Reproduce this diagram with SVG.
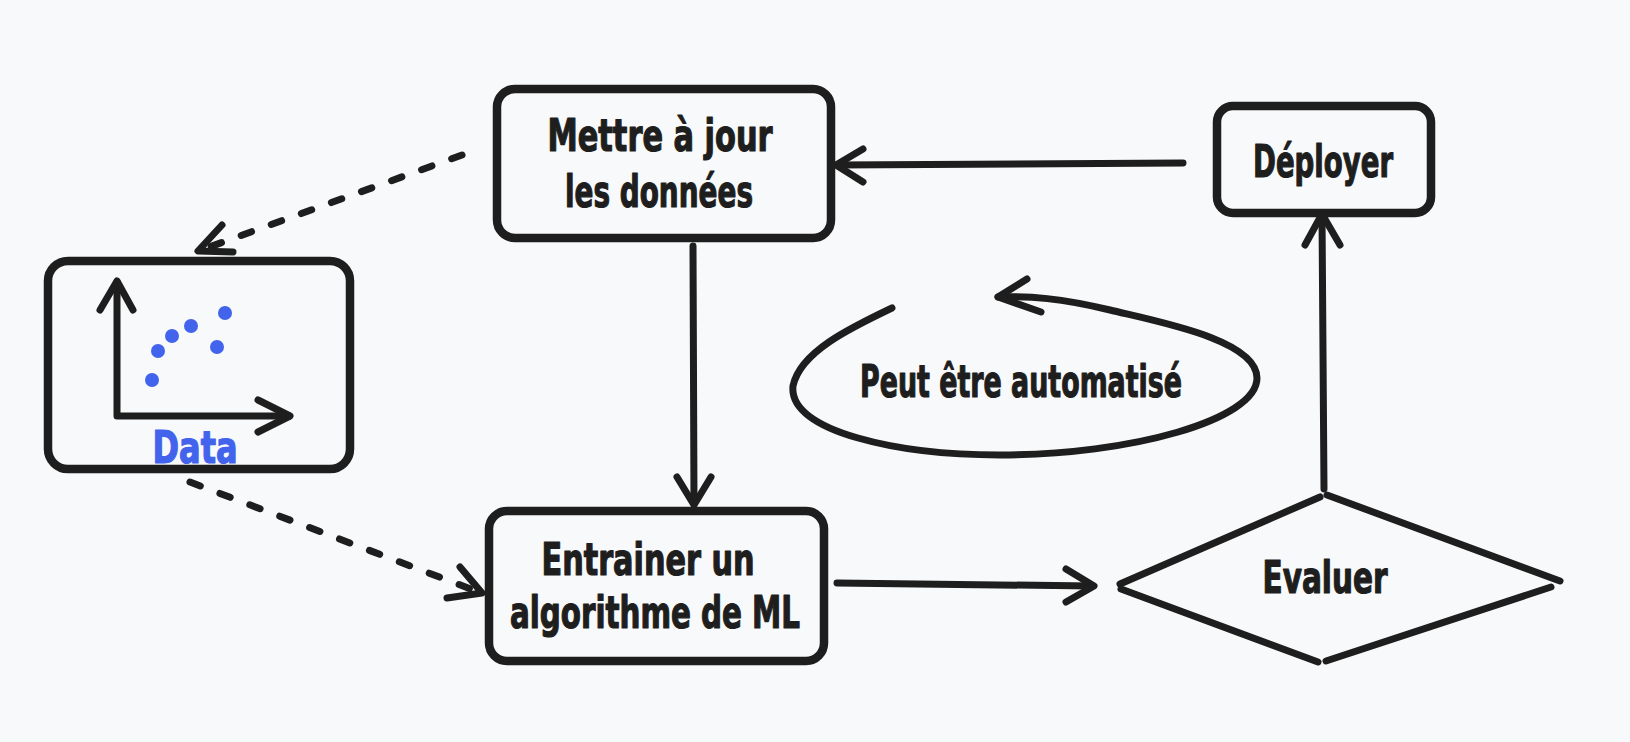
<svg xmlns="http://www.w3.org/2000/svg" width="1630" height="742" viewBox="0 0 1630 742">
  <defs>
    <style>
      .box { fill: none; stroke: #1e1e1e; stroke-width: 8.5; stroke-linejoin: round; }
      .edge { fill: none; stroke: #1e1e1e; stroke-width: 7; stroke-linecap: round; stroke-linejoin: round; }
      .dash { stroke-dasharray: 11 21; }
      .lbl { font-family: "DejaVu Sans Condensed", "DejaVu Sans", "Liberation Sans", sans-serif; font-stretch: condensed; font-weight: bold; font-size: 44px; fill: #1e1e1e; stroke: #1e1e1e; stroke-width: 1.2; stroke-linejoin: round; text-anchor: middle; }
      .blue { fill: #4263eb; stroke: #4263eb; }
    </style>
  </defs>
  <rect x="0" y="0" width="1630" height="742" fill="#f8f9fa"/>

  <g id="connectors">
    <!-- Mettre -> Data (dashed) -->
    <path class="edge dash" d="M 462 155 L 204 249"/>
    <path class="edge" d="M 222 225 L 198 251 L 233 252"/>
    <!-- Data -> Entrainer (dashed) -->
    <path class="edge dash" d="M 190 482 L 476 591"/>
    <path class="edge" d="M 460 567 L 482 593 L 447 598"/>
    <!-- Mettre -> Entrainer -->
    <path class="edge" d="M 693 246 L 694 503"/>
    <path class="edge" d="M 677 477 L 694 505 L 711 477"/>
    <!-- Deployer -> Mettre -->
    <path class="edge" d="M 1183 163 L 838 165"/>
    <path class="edge" d="M 863 149 L 836 165 L 863 182"/>
    <!-- Entrainer -> Evaluer -->
    <path class="edge" d="M 837 583 L 1092 586"/>
    <path class="edge" d="M 1066 569 L 1094 586 L 1066 602"/>
    <!-- Evaluer -> Deployer -->
    <path class="edge" d="M 1324 489 L 1322 215"/>
    <path class="edge" d="M 1305 245 L 1322 214 L 1340 245"/>
  </g>

  <g id="node-data">
    <rect class="box" x="48" y="261" width="302" height="208" rx="20"/>
    <path class="edge" d="M 117 282 L 117 416 L 289 416"/>
    <path class="edge" d="M 100 310 L 117 281 L 133 310"/>
    <path class="edge" d="M 258 400 L 290 416 L 258 432"/>
    <g fill="#4263eb">
      <circle cx="152" cy="380" r="7"/>
      <circle cx="158" cy="351" r="7"/>
      <circle cx="172" cy="336" r="7"/>
      <circle cx="191" cy="326" r="7"/>
      <circle cx="225" cy="313" r="7"/>
      <circle cx="217" cy="347" r="7"/>
    </g>
    <text class="lbl blue" x="195" y="463" textLength="85" lengthAdjust="spacingAndGlyphs">Data</text>
  </g>

  <g id="node-mettre">
    <rect class="box" x="497" y="89" width="334" height="149" rx="18"/>
    <text class="lbl" x="660" y="151" textLength="225" lengthAdjust="spacingAndGlyphs">Mettre à jour</text>
    <text class="lbl" x="659" y="207" textLength="188" lengthAdjust="spacingAndGlyphs">les données</text>
  </g>

  <g id="node-entrainer">
    <rect class="box" x="489" y="511" width="335" height="150" rx="18"/>
    <text class="lbl" x="648" y="575" textLength="213" lengthAdjust="spacingAndGlyphs">Entrainer un</text>
    <text class="lbl" x="655" y="628" textLength="290" lengthAdjust="spacingAndGlyphs">algorithme de ML</text>
  </g>

  <g id="node-deployer">
    <rect class="box" x="1217" y="106" width="214" height="107" rx="16"/>
    <text class="lbl" x="1323" y="177" textLength="140" lengthAdjust="spacingAndGlyphs">Déployer</text>
  </g>

  <g id="node-evaluer">
    <path class="edge" d="M 1120 584 L 1320 497"/>
    <path class="edge" d="M 1327 495 L 1560 581"/>
    <path class="edge" d="M 1551 587 L 1326 661"/>
    <path class="edge" d="M 1318 662 L 1121 589"/>
    <text class="lbl" x="1325" y="593" textLength="125" lengthAdjust="spacingAndGlyphs">Evaluer</text>
  </g>

  <g id="node-loop">
    <path class="edge" d="M 892 308 C 850 328, 800 352, 793 386 C 788 432, 900 455, 1000 455 C 1130 455, 1257 420, 1257 378 C 1257 340, 1160 322, 1110 310 C 1060 298, 1030 296, 998 297"/>
    <path class="edge" d="M 1027 279 L 998 297 L 1041 312"/>
    <text class="lbl" x="1021" y="397" textLength="322" lengthAdjust="spacingAndGlyphs">Peut être automatisé</text>
  </g>
</svg>
